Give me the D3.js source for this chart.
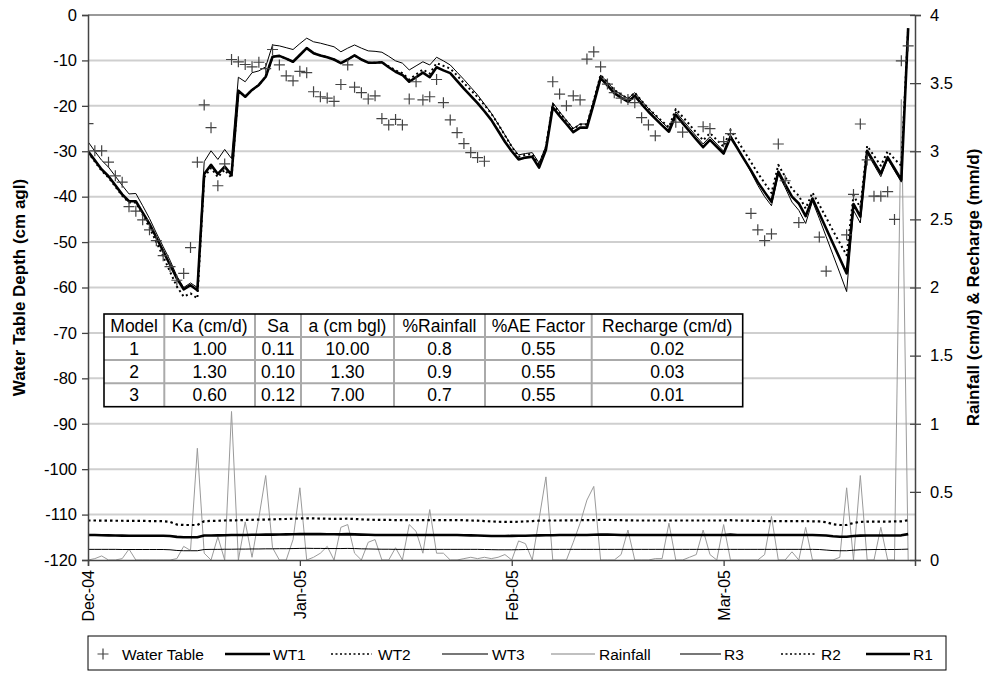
<!DOCTYPE html>
<html><head><meta charset="utf-8">
<script src="https://cdn.jsdelivr.net/npm/d3@7"></script>
<style>body{margin:0;background:#fff}svg{display:block}text{font-family:"Liberation Sans",Arial,sans-serif}</style>
</head><body><svg id="c" width="986" height="676"></svg>
<script>
// ---- data (day index 0 = 1 Dec 2004) ----
const monthTicks = [0, 31, 62, 93];
const monthLabels = ["Dec-04", "Jan-05", "Feb-05", "Mar-05"];
const leftTicks = [0,-10,-20,-30,-40,-50,-60,-70,-80,-90,-100,-110,-120];
const rightTicks = [0,0.5,1,1.5,2,2.5,3,3.5,4];

const wt1 = [-30,-32,-34,-35.5,-37.5,-39.5,-41,-41,-43.5,-46,
 -49,-52,-55,-58,-60.4,-59.5,-60.6,-35,-33,-35,
 -33.4,-35.2,-16.7,-18,-16.5,-15.4,-13.6,-9.2,-9,-9.6,
 -10.3,-8.8,-7.3,-8.4,-8.9,-9.3,-9.8,-10.6,-9.8,-8.9,
 -9.8,-10.5,-10.5,-10.4,-11.5,-12.5,-13.2,-14.7,-13.7,-12.7,
 -13.7,-11.5,-12.2,-12.8,-14.5,-16.2,-17.8,-19.4,-21.2,-23.1,
 -25.5,-27.9,-30,-31.8,-31.4,-31.2,-33.6,-29.7,-20.3,-22.2,
 -24,-25.8,-24.8,-24.8,-19.5,-13.9,-15.5,-17.2,-18.2,-19.1,
 -17.8,-19.6,-21.3,-22.8,-24.3,-25.7,-22,-23.8,-25.6,-27.4,
 -29.1,-27.5,-29,-30.5,-26.9,-29.3,-31.8,-34.2,-36.8,-39,
 -41.1,-34.5,-37.3,-40,-41.5,-44.3,-40.4,-43.7,-47,-50.3,
 -53.6,-56.9,-41.6,-44.4,-29.9,-32.4,-34.9,-31.3,-33.8,-36.3,-2.9];

const wt2 = [-30.2,-32.3,-34.3,-35.8,-37.8,-39.8,-41.3,-41.3,-44,-46.8,
 -50,-53.2,-56.5,-59.8,-62,-61.3,-62.4,-35.7,-33.7,-35.7,
 -34.1,-35.9,-16.7,-18,-16.5,-15.4,-13.6,-9.2,-9,-9.6,
 -10.3,-8.8,-7.3,-8.4,-8.9,-9.3,-9.8,-10.6,-9.8,-8.9,
 -9.8,-10.5,-10.5,-10.4,-11.3,-12.2,-12.8,-14.2,-13.1,-12,
 -12.9,-10.6,-11.2,-11.8,-13.3,-15,-16.5,-18.1,-19.8,-21.7,
 -24,-26.5,-29,-31.2,-30.8,-30.6,-33,-29,-19.6,-21.5,
 -23.3,-25.1,-24.1,-24.1,-18.8,-13.2,-14.8,-16.5,-17.5,-18.4,
 -17.1,-18.9,-20.6,-22,-23.4,-24.7,-20.7,-22.4,-24.1,-25.9,
 -27.6,-26,-27.5,-29,-25.3,-27.6,-30,-32.4,-34.8,-37,
 -39.2,-33,-35.6,-38.3,-39.8,-42.6,-39.1,-41.8,-44.6,-47.5,
 -50.2,-52.9,-39.7,-42.4,-28.8,-31,-33.2,-30,-31.7,-33.2,-2.9];

const wt3 = [-27.9,-30,-32,-33.5,-35.5,-37.5,-39.4,-39.3,-42,-44.8,
 -48,-51,-54,-57.5,-60,-59,-60,-32.3,-29.9,-31.8,
 -29.6,-31.6,-13.7,-14.7,-12.7,-12.3,-11.4,-6.6,-6.8,-7.2,
 -7.6,-6.3,-5.1,-5.9,-6.2,-6.6,-7,-8.1,-7.3,-6.6,
 -7.3,-7.9,-8,-8.2,-9.1,-10.1,-10.6,-12.1,-11.2,-10.3,
 -11,-9.3,-10.1,-11,-12.6,-14.2,-15.9,-17.6,-19.6,-21.6,
 -24,-26.4,-28.9,-30.8,-30.5,-30.3,-32.6,-28.9,-19.3,-21.3,
 -23.2,-25,-24,-24,-18.8,-13.2,-14.8,-16.5,-17.5,-18.4,
 -17.1,-18.9,-20.6,-22.1,-23.6,-25,-21.3,-23.1,-24.9,-26.7,
 -28.4,-26.8,-28.4,-30,-26.4,-29,-31.8,-34.6,-37.5,-40,
 -42,-35,-38,-41.2,-43,-45.9,-41,-44.8,-48.8,-52.8,
 -56.8,-60.9,-43,-45.8,-30.4,-33,-35.6,-31.7,-34.3,-36.8,-3.2];

const waterTable = [-23.9,-29.9,-29.9,-32.4,-35.4,-36.8,-42.2,-43.2,-45.1,-47.3,
 -49.7,-53,-55.4,-58.4,-56.9,-51.2,-32.4,-19.8,-24.8,-37.6,
 -32.8,-9.8,-10.3,-10.9,-11.4,-10.4,-11.8,-7.6,-11,-13.4,
 -14.5,-12.4,-12.7,-16.9,-18,-18.3,-19,-15.3,-11,-15.9,
 -17.1,-18.5,-17.8,-22.8,-24.2,-23,-24.2,-18.5,-14.7,-18.7,
 -18,-14.2,-19.3,-23.1,-25.9,-28.3,-30.3,-31.4,-32.2,null,
 null,null,null,null,null,null,null,null,-14.7,-17.4,
 -20,-17.8,-18.7,-9.7,-8.1,-11.4,-15.2,-17.1,-18.3,-18.6,
 -19.3,-22.6,-24.2,-26.6,null,null,-23.6,-25.8,null,null,
 -24.6,-25,null,-27.9,-26.1,null,null,-43.7,-47.3,-49.7,
 -48.2,-28.4,-36.5,null,-45.7,null,null,-48.9,-56.4,null,
 null,-48.4,-39.5,-24,-31.9,-39.9,-39.9,-38.9,-45,-10.1,-6.8];

const rainfall = [0,0.01,0.03,0,0,0.01,0.08,0,0,0,
 0,0,0,0.01,0.1,0.07,0.82,0.05,0,0.17,
 0,1.09,0,0.28,0.02,0.31,0.62,0.09,0,0,
 0.15,0.53,0,0.02,0.05,0.1,0,0.24,0.26,0.05,
 0,0.13,0.15,0,0,0.09,0,0.26,0.21,0.05,
 0.37,0.05,0.05,0,0,0.01,0.02,0.01,0.02,0.01,
 0.02,0.04,0,0.14,0.12,0,0.3,0.61,0,0,
 0,0.13,0.27,0.44,0.54,0,0,0,0.04,0.22,
 0,0,0,0.01,0.01,0.27,0,0,0.02,0.04,
 0.22,0.04,0,0.26,0,0,0,0,0,0.04,
 0.32,0,0,0.06,0,0.24,0,0,0,0,
 0.02,0.53,0,0.62,0,0,0.24,0,0,3.38,0];

const r1 = [0.183,0.183,0.182,0.181,0.18,0.179,0.178,0.178,0.178,0.178,
 0.178,0.178,0.176,0.17,0.167,0.167,0.167,0.18,0.18,0.181,
 0.182,0.183,0.184,0.184,0.185,0.185,0.186,0.186,0.187,0.188,
 0.189,0.19,0.191,0.19,0.19,0.189,0.189,0.188,0.19,0.188,
 0.186,0.185,0.184,0.183,0.183,0.183,0.183,0.183,0.183,0.183,
 0.183,0.183,0.183,0.183,0.183,0.182,0.181,0.18,0.178,0.176,
 0.176,0.176,0.177,0.178,0.178,0.18,0.181,0.182,0.182,0.183,
 0.183,0.183,0.183,0.184,0.185,0.186,0.186,0.185,0.184,0.183,
 0.183,0.183,0.183,0.183,0.183,0.183,0.183,0.183,0.183,0.183,
 0.183,0.183,0.183,0.183,0.186,0.183,0.183,0.183,0.183,0.183,
 0.183,0.183,0.183,0.183,0.183,0.183,0.183,0.182,0.18,0.174,
 0.171,0.171,0.176,0.179,0.18,0.18,0.18,0.18,0.18,0.181,0.19];

const r2 = [0.29,0.29,0.289,0.289,0.288,0.288,0.287,0.287,0.287,0.286,
 0.286,0.285,0.28,0.26,0.257,0.257,0.257,0.285,0.287,0.288,
 0.29,0.291,0.292,0.294,0.295,0.296,0.297,0.298,0.3,0.301,
 0.303,0.305,0.306,0.305,0.304,0.303,0.302,0.302,0.303,0.301,
 0.298,0.296,0.295,0.294,0.294,0.293,0.293,0.293,0.293,0.293,
 0.293,0.293,0.293,0.293,0.293,0.292,0.29,0.289,0.286,0.283,
 0.281,0.28,0.28,0.281,0.283,0.286,0.289,0.29,0.29,0.29,
 0.291,0.291,0.292,0.292,0.293,0.294,0.294,0.293,0.292,0.291,
 0.29,0.29,0.29,0.29,0.29,0.29,0.29,0.29,0.29,0.29,
 0.29,0.29,0.29,0.29,0.292,0.29,0.289,0.288,0.287,0.286,
 0.286,0.286,0.285,0.285,0.285,0.285,0.284,0.283,0.278,0.262,
 0.257,0.257,0.272,0.28,0.282,0.282,0.282,0.282,0.283,0.284,0.292];

const r3 = [0.078,0.078,0.078,0.078,0.078,0.077,0.077,0.077,0.077,0.077,
 0.077,0.077,0.075,0.07,0.068,0.068,0.068,0.077,0.078,0.078,
 0.079,0.079,0.08,0.08,0.081,0.081,0.082,0.082,0.083,0.083,
 0.084,0.085,0.086,0.085,0.085,0.084,0.084,0.084,0.085,0.084,
 0.082,0.081,0.08,0.079,0.079,0.078,0.078,0.078,0.078,0.078,
 0.078,0.078,0.078,0.078,0.078,0.078,0.078,0.078,0.077,0.076,
 0.075,0.075,0.075,0.076,0.077,0.078,0.078,0.078,0.078,0.078,
 0.078,0.078,0.078,0.078,0.078,0.078,0.078,0.078,0.078,0.078,
 0.078,0.078,0.078,0.078,0.078,0.078,0.078,0.078,0.078,0.078,
 0.078,0.078,0.078,0.078,0.078,0.078,0.078,0.078,0.078,0.078,
 0.078,0.078,0.078,0.078,0.078,0.078,0.078,0.077,0.073,0.069,
 0.068,0.068,0.072,0.075,0.076,0.077,0.077,0.077,0.077,0.078,0.08];

const tableHeader = ["Model","Ka (cm/d)","Sa","a (cm bgl)","%Rainfall","%AE Factor","Recharge (cm/d)"];
const tableRows = [
  ["1","1.00","0.11","10.00","0.8","0.55","0.02"],
  ["2","1.30","0.10","1.30","0.9","0.55","0.03"],
  ["3","0.60","0.12","7.00","0.7","0.55","0.01"]
];
const legendNames = ["Water Table","WT1","WT2","WT3","Rainfall","R3","R2","R1"];

// ---- drawing ----
const svg = d3.select("#c");
const L = 88, R = 915, T = 15, B = 560;
const x = d3.scaleLinear().domain([0, 121]).range([L, R]);
const yL = d3.scaleLinear().domain([-120, 0]).range([B, T]);
const yR = d3.scaleLinear().domain([0, 4]).range([B, T]);

svg.append("defs").append("clipPath").attr("id","clip")
  .append("rect").attr("x",L).attr("y",T-1).attr("width",R-L).attr("height",B-T+1);

// gridlines
svg.append("g").selectAll("line").data(leftTicks.filter(v => v > -120 && v < 0)).join("line")
  .attr("x1", L).attr("x2", R).attr("y1", d => yL(d)).attr("y2", d => yL(d))
  .attr("stroke", "#cfcfcf").attr("stroke-width", 2);
// top border
svg.append("line").attr("x1",L).attr("x2",R).attr("y1",T).attr("y2",T).attr("stroke","#777").attr("stroke-width",1.5);

const styles = {
  WT1: {stroke:"#000", w:2.6, dash:null},
  WT2: {stroke:"#000", w:2, dash:"2,3"},
  WT3: {stroke:"#000", w:1, dash:null},
  Rainfall: {stroke:"#9a9a9a", w:1, dash:null},
  R3: {stroke:"#000", w:1, dash:null},
  R2: {stroke:"#000", w:2.2, dash:"2.5,3"},
  R1: {stroke:"#000", w:2.6, dash:null}
};

const plot = svg.append("g").attr("clip-path","url(#clip)");
const lineR = d3.line().x((d,i) => x(i)).y(d => yR(d));
const lineL = d3.line().x((d,i) => x(i)).y(d => yL(d));
function draw(data, gen, st) {
  plot.append("path").datum(data).attr("d", gen).attr("fill","none")
    .attr("stroke", st.stroke).attr("stroke-width", st.w)
    .attr("stroke-dasharray", st.dash).attr("stroke-linejoin","round");
}
draw(rainfall, lineR, styles.Rainfall);
draw(r3, lineR, styles.R3);
draw(r2, lineR, styles.R2);
draw(r1, lineR, styles.R1);
draw(wt3, lineL, styles.WT3);
draw(wt2, lineL, styles.WT2);
draw(wt1, lineL, styles.WT1);

const cross = "M-5.5,0H5.5M0,-5.5V5.5";
plot.append("g").selectAll("path")
  .data(waterTable.map((v,i) => ({v,i})).filter(d => d.v !== null)).join("path")
  .attr("transform", d => `translate(${x(d.i)},${yL(d.v)})`)
  .attr("d", cross).attr("stroke","#444").attr("stroke-width",1.2).attr("fill","none");

// axes
const ax = svg.append("g").attr("transform",`translate(${L},0)`)
  .call(d3.axisLeft(yL).tickValues(leftTicks).tickSize(6).tickPadding(5).tickFormat(d => d));
ax.select(".domain").attr("stroke","#444").attr("stroke-width",1.5);
ax.selectAll(".tick line").attr("stroke","#444").attr("stroke-width",1.3);
ax.selectAll("text").attr("font-size",16.5).attr("fill","#000").style("font-family","Liberation Sans, Arial");

const axr = svg.append("g").attr("transform",`translate(${R},0)`)
  .call(d3.axisRight(yR).tickValues(rightTicks).tickSize(6).tickPadding(9).tickFormat(d => d));
axr.select(".domain").attr("stroke","#444").attr("stroke-width",1.5);
axr.selectAll(".tick line").attr("stroke","#444").attr("stroke-width",1.3).attr("x1",-5);
axr.selectAll("text").attr("font-size",16.5).attr("fill","#000").style("font-family","Liberation Sans, Arial");

const axb = svg.append("g").attr("transform",`translate(0,${B})`)
  .call(d3.axisBottom(x).tickValues(monthTicks).tickSize(6).tickFormat((d,i) => monthLabels[i]));
axb.select(".domain").attr("stroke","#444").attr("stroke-width",1.5);
axb.selectAll(".tick line").attr("stroke","#444").attr("stroke-width",1.3);
axb.selectAll("text").attr("font-size",16).attr("fill","#000").style("font-family","Liberation Sans, Arial")
  .attr("transform","rotate(-90)").attr("text-anchor","end").attr("x",-10).attr("y",0).attr("dy","0.35em");

// axis titles
svg.append("text").attr("transform",`translate(19,${(T+B)/2}) rotate(-90)`)
  .attr("text-anchor","middle").attr("dy","0.35em").attr("font-size",17).attr("font-weight","bold")
  .text("Water Table Depth (cm agl)");
svg.append("text").attr("transform",`translate(973,${(T+B)/2}) rotate(-90)`)
  .attr("text-anchor","middle").attr("dy","0.35em").attr("font-size",17).attr("font-weight","bold")
  .text("Rainfall (cm/d) & Recharge (mm/d)");

// table
const colX = [104,164.3,255,301,394,485,591.7,742.7];
const rowY = [314,337,360,383.3,406.7];
const tg = svg.append("g");
tg.append("rect").attr("x",colX[0]).attr("y",rowY[0]).attr("width",colX[7]-colX[0]).attr("height",rowY[4]-rowY[0]).attr("fill","#fff");
for (let c = 1; c < 7; c++) tg.append("line").attr("x1",colX[c]).attr("x2",colX[c]).attr("y1",rowY[0]).attr("y2",rowY[4]).attr("stroke","#aaa").attr("stroke-width",2);
for (let r = 1; r < 4; r++) tg.append("line").attr("x1",colX[0]).attr("x2",colX[7]).attr("y1",rowY[r]).attr("y2",rowY[r]).attr("stroke","#aaa").attr("stroke-width",2);
tg.append("rect").attr("x",colX[0]).attr("y",rowY[0]).attr("width",colX[7]-colX[0]).attr("height",rowY[4]-rowY[0]).attr("fill","none").attr("stroke","#000").attr("stroke-width",1.6);
[tableHeader, ...tableRows].forEach((row, r) => {
  row.forEach((cell, c) => {
    tg.append("text").attr("x",(colX[c]+colX[c+1])/2).attr("y",(rowY[r]+rowY[r+1])/2).attr("dy","0.36em")
      .attr("text-anchor","middle").attr("font-size",17.5).text(cell);
  });
});

// legend
const lg = svg.append("g");
lg.append("rect").attr("x",88).attr("y",636).attr("width",858).attr("height",34).attr("fill","#fff").attr("stroke","#000").attr("stroke-width",1);
const ly = 654;
const legItems = [
  {name:legendNames[0], x0:97, x1:109, tx:122, type:"cross"},
  {name:legendNames[1], x0:225, x1:270, tx:273, st:{stroke:"#000",w:2.6}},
  {name:legendNames[2], x0:331, x1:372, tx:378, st:{stroke:"#000",w:1.5,dash:"2,2.5"}},
  {name:legendNames[3], x0:442, x1:488, tx:492, st:{stroke:"#777",w:2}},
  {name:legendNames[4], x0:551, x1:595, tx:599, st:{stroke:"#c0c0c0",w:2}},
  {name:legendNames[5], x0:680, x1:721, tx:724, st:{stroke:"#777",w:2}},
  {name:legendNames[6], x0:781, x1:817, tx:821, st:{stroke:"#000",w:1.5,dash:"2,2.5"}},
  {name:legendNames[7], x0:866, x1:910, tx:913, st:{stroke:"#000",w:2.6}}
];
legItems.forEach(it => {
  if (it.type === "cross") {
    lg.append("path").attr("transform",`translate(${(it.x0+it.x1)/2},${ly})`).attr("d",cross).attr("stroke","#444").attr("stroke-width",1.2);
  } else {
    lg.append("line").attr("x1",it.x0).attr("x2",it.x1).attr("y1",ly).attr("y2",ly)
      .attr("stroke",it.st.stroke).attr("stroke-width",it.st.w).attr("stroke-dasharray",it.st.dash||null);
  }
  lg.append("text").attr("x",it.tx).attr("y",ly).attr("dy","0.36em").attr("font-size",15.5).text(it.name);
});
</script></body></html>
